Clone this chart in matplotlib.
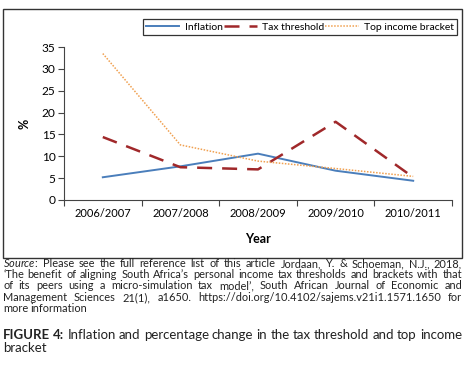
import matplotlib

matplotlib.use("Agg")
import matplotlib.pyplot as plt
from matplotlib.patches import Rectangle
from matplotlib.ticker import FixedLocator
import numpy as np

plt.rcParams["font.family"] = ["Lato", "DejaVu Sans"]
plt.rcParams["mathtext.fontset"] = "custom"
plt.rcParams["mathtext.it"] = "Lato:italic"
plt.rcParams["mathtext.rm"] = "Lato"

years = ["2006/2007", "2007/2008", "2008/2009", "2009/2010", "2010/2011"]
inflation = [5.2, 7.7, 10.6, 6.7, 4.4]
tax_threshold = [14.4, 7.5, 7.0, 17.9, 5.2]
top_bracket = [33.5, 12.6, 8.9, 7.2, 5.4]

source_lines = [
    r"$\mathit{Source}$: Please see the full reference list of this article Jordaan, Y. & Schoeman, N.J., 2018,",
    "\u2018The benefit of aligning South Africa\u2019s personal income tax thresholds and brackets with that",
    "of its peers using a micro-simulation tax model\u2019, South African Journal of Economic and",
    "Management Sciences 21(1), a1650. https://doi.org/10.4102/sajems.v21i1.1571.1650 for",
    "more information",
]
caption_lines = [
    "FIGURE 4: Inflation and percentage change in the tax threshold and top income",
    "bracket",
]

W, H = 473, 376
fig = plt.figure(figsize=(W / 100, H / 100), dpi=100)

# outer frame round the chart
fig.patches.append(Rectangle((3 / W, 1 - 258 / H), 459 / W, 249 / H,
                             transform=fig.transFigure, fill=False,
                             edgecolor="#333333", linewidth=1.0))

ax = fig.add_axes([64 / W, 1 - 200 / H, 388 / W, 153 / H])
x = np.arange(len(years))
l1, = ax.plot(x, inflation, color="#4a7ebb", lw=1.4, label="Inflation")
l2, = ax.plot(x, tax_threshold, color="#a0282a", lw=1.8, dashes=(6, 4),
              label="Tax threshold")
l3, = ax.plot(x, top_bracket, color="#f0a050", lw=1.1, dashes=(1, 1),
              label="Top income bracket")

ax.set_xlim(-0.5, len(years) - 0.5)
ax.set_ylim(0, 35)
ax.set_yticks(range(0, 36, 5))
ax.xaxis.set_major_locator(FixedLocator(np.arange(-0.5, len(years), 1.0)))
ax.xaxis.set_minor_locator(FixedLocator(x))
ax.set_xticklabels([])
ax.set_xticklabels(years, minor=True)
ax.tick_params(axis="x", which="major", length=4, width=0.8, color="#444444")
ax.tick_params(axis="x", which="minor", length=0, pad=6, labelsize=8)
ax.tick_params(axis="y", length=4, width=0.8, color="#444444", labelsize=8.6, pad=2)
for s in ["top", "right"]:
    ax.spines[s].set_visible(False)
for s in ["left", "bottom"]:
    ax.spines[s].set_color("#444444")
    ax.spines[s].set_linewidth(0.8)
ax.set_ylabel("%", fontsize=9, fontweight="bold", labelpad=8)
fig.text(258 / W, 1 - 239 / H, "Year", ha="center", va="center",
         fontsize=9, fontweight="bold")

leg = fig.legend(handles=[l1, l2, l3], ncol=3, loc="lower left",
                 bbox_to_anchor=(143 / W, 1 - 35 / H, 314 / W, 20 / H),
                 mode="expand", fontsize=7.5, frameon=True, fancybox=False,
                 handlelength=3.2, handletextpad=0.5, borderpad=0.3,
                 columnspacing=0.8, borderaxespad=0)
leg.get_frame().set_edgecolor("black")
leg.get_frame().set_linewidth(0.9)

renderer = fig.canvas.get_renderer()


def justify(line, y_px, size, justified=True, bold_words=0):
    """Places words of one line between x=3 and x=462 pixels."""
    words = line.split(" ")
    texts = []
    widths = []
    for i, w in enumerate(words):
        kw = {"fontweight": "bold"} if i < bold_words else {}
        t = fig.text(0, 0, w, fontsize=size, va="baseline", color="#222222", **kw)
        widths.append(t.get_window_extent(renderer).width)
        texts.append(t)
    total = sum(widths)
    if justified and len(words) > 1:
        gap = (459 - total) / (len(words) - 1)
    else:
        gap = size * 0.32
    xp = 3.0
    for wd, t in zip(widths, texts):
        t.set_position((xp / W, 1 - y_px / H))
        xp += wd + gap


src_y = [267, 278, 289, 301, 312]
for i, line in enumerate(source_lines):
    justify(line, src_y[i], 7.9, justified=i < len(source_lines) - 1)

cap_y = [339, 352]
for i, line in enumerate(caption_lines):
    justify(line, cap_y[i], 9.5, justified=i == 0, bold_words=2 if i == 0 else 0)

fig.savefig("out.png", dpi=100)
